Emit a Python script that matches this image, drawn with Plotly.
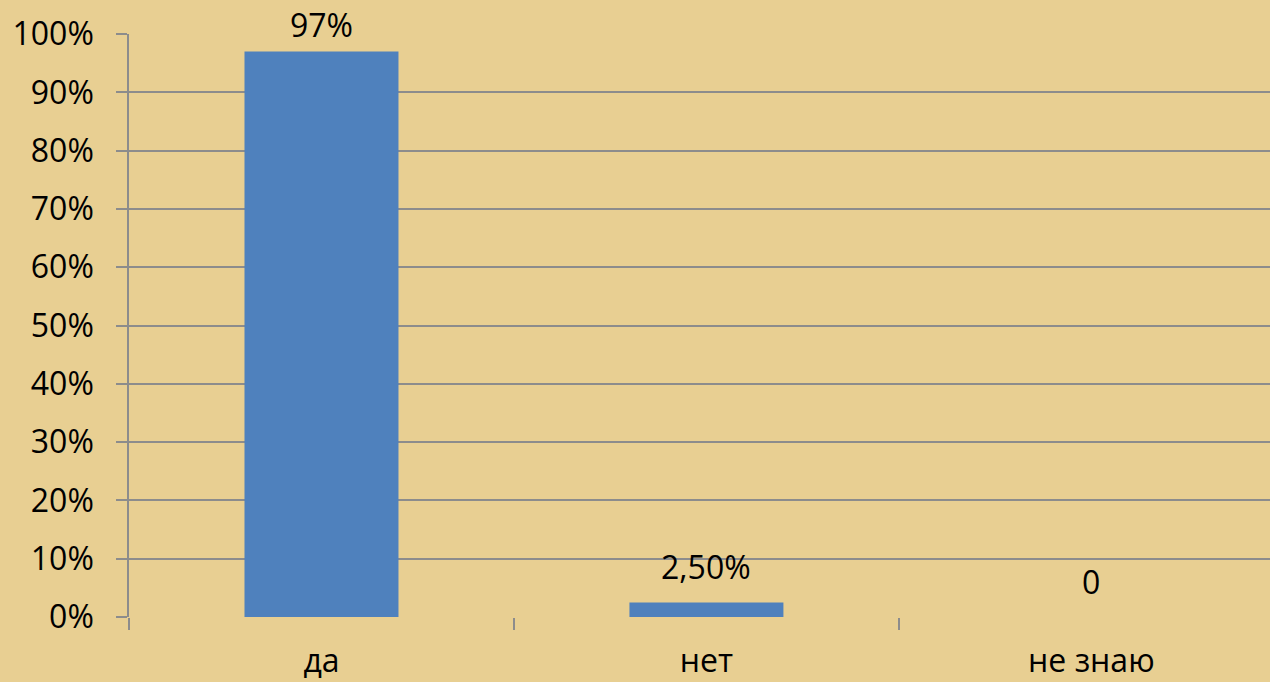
import plotly.graph_objects as go

categories = ["да", "нет", "не знаю"]
values = [97, 2.5, 0]
value_labels = ["97%", "2,50%", "0"]
y_ticks = [0, 10, 20, 30, 40, 50, 60, 70, 80, 90, 100]

FONT = "Open Sans"
BG = "#E8CF92"
GRID = "#8C8C8C"
FS = 32

fig = go.Figure()
fig.add_trace(go.Bar(
    x=categories, y=values, width=0.4,
    marker=dict(color="#4F81BD", line=dict(width=0)),
    hoverinfo="x+y",
))

for c, v, t in zip(categories, values, value_labels):
    # labels near the top of the plot sit closer to their bar
    shift = 3 if v > 90 else 12
    fig.add_annotation(x=c, y=v, text=t, showarrow=False, yanchor="bottom",
                       yshift=shift, font=dict(family=FONT, size=FS, color="black"))

fig.update_layout(
    width=1270, height=682,
    paper_bgcolor=BG, plot_bgcolor=BG,
    margin=dict(l=129, r=0, t=34, b=65, autoexpand=False),
    showlegend=False,
    font=dict(family=FONT, size=FS, color="black"),
)
fig.update_xaxes(
    type="category", range=[-0.5, 2.464],
    tickson="boundaries", ticks="outside", ticklen=12, tickcolor=GRID, tickwidth=1.5,
    showgrid=False, showline=False, zeroline=False,
    ticklabelstandoff=22,
    tickfont=dict(family=FONT, size=FS, color="black"),
    automargin=False,
)
fig.update_yaxes(
    range=[0, 100], tickvals=y_ticks, ticktext=[f"{v}%" for v in y_ticks],
    showgrid=True, gridcolor=GRID, gridwidth=1.5,
    showline=True, linecolor=GRID, linewidth=1.5,
    ticks="outside", ticklen=11, tickcolor=GRID, tickwidth=1.5,
    zeroline=False, ticklabelstandoff=16,
    tickfont=dict(family=FONT, size=FS, color="black"),
    automargin=False,
)
fig.write_html(
    "out.html",
    config={"displayModeBar": False},
    post_script=f"document.body.style.margin='0';document.body.style.overflow='hidden';"
                f"document.body.style.background='{BG}';",
)
